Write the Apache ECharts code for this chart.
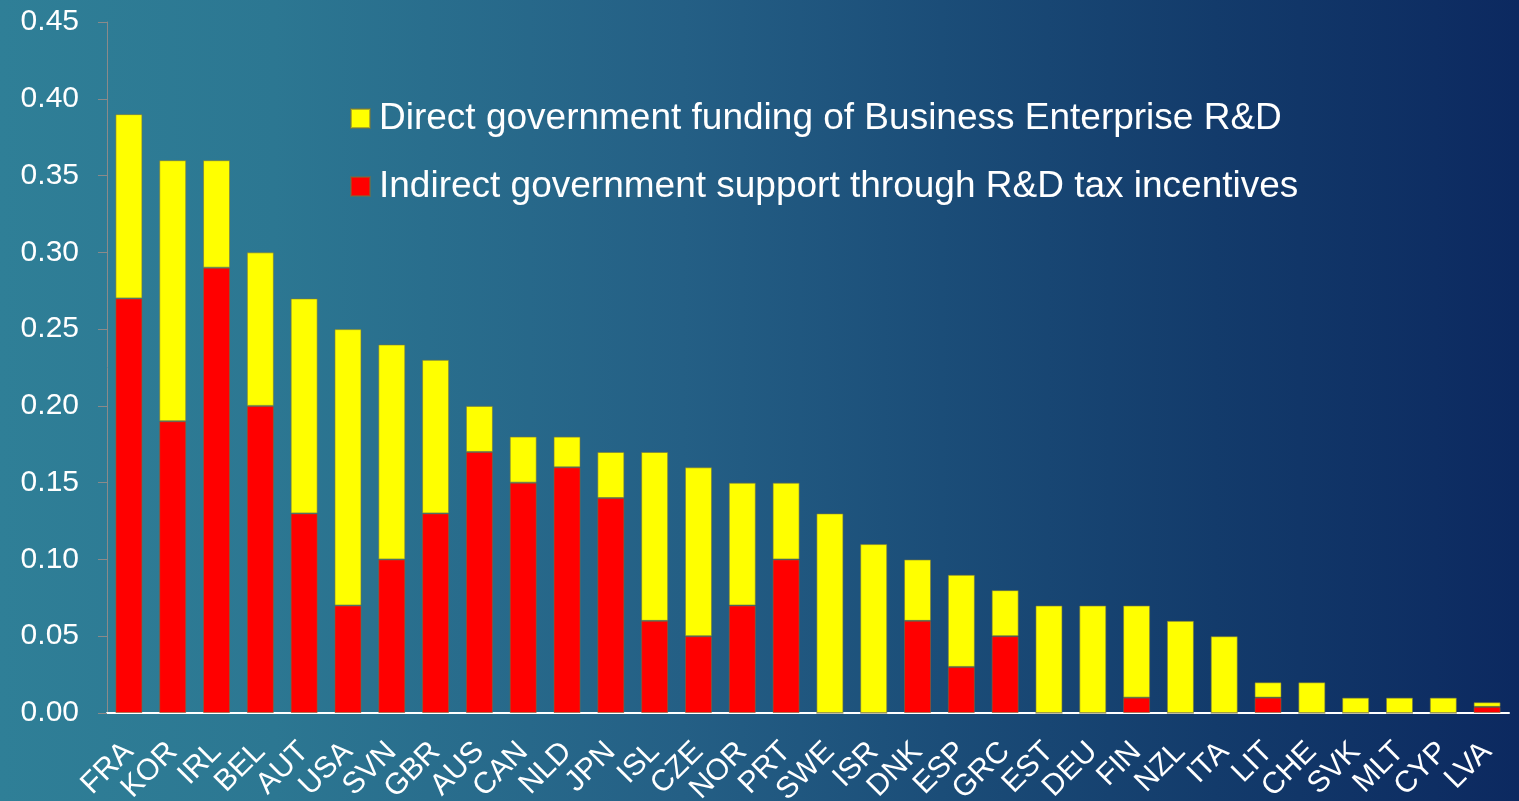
<!DOCTYPE html>
<html>
<head>
<meta charset="utf-8">
<script src="https://cdn.jsdelivr.net/npm/echarts@6/dist/echarts.min.js"></script>
<style>
  html, body { margin: 0; padding: 0; width: 100%; height: 100%; overflow: hidden; }
  body {
    background: linear-gradient(90deg, #2f7f97 0%, #2c7792 18%, #245f85 45%, #1b4d78 62%, #133b6b 80%, #0c2960 100%);
  }
  #chart { width: 1519px; height: 801px; }
</style>
</head>
<body>
<div id="chart"></div>
<script>
// Countries, ordered by total government support for business R&D
const countries = ['FRA', 'KOR', 'IRL', 'BEL', 'AUT', 'USA', 'SVN', 'GBR', 'AUS', 'CAN', 'NLD', 'JPN',
  'ISL', 'CZE', 'NOR', 'PRT', 'SWE', 'ISR', 'DNK', 'ESP', 'GRC', 'EST', 'DEU', 'FIN', 'NZL', 'ITA',
  'LIT', 'CHE', 'SVK', 'MLT', 'CYP', 'LVA'];

// Indirect support through R&D tax incentives (% of GDP)
const indirectSupport = [0.27, 0.19, 0.29, 0.20, 0.13, 0.07, 0.10, 0.13, 0.17, 0.15, 0.16, 0.14,
  0.06, 0.05, 0.07, 0.10, 0, 0, 0.06, 0.03, 0.05, 0, 0, 0.01, 0, 0,
  0.01, 0, 0, 0, 0, 0.004];

// Direct government funding of BERD (% of GDP)
const directFunding = [0.12, 0.17, 0.07, 0.10, 0.14, 0.18, 0.14, 0.10, 0.03, 0.03, 0.02, 0.03,
  0.11, 0.11, 0.08, 0.05, 0.13, 0.11, 0.04, 0.06, 0.03, 0.07, 0.07, 0.06, 0.06, 0.05,
  0.01, 0.02, 0.01, 0.01, 0.01, 0.003];

const directName = 'Direct government funding of Business Enterprise R&D';
const indirectName = 'Indirect government support through R&D tax incentives';

const font = '"Liberation Sans", Arial, sans-serif';
const chart = echarts.init(document.getElementById('chart'));

chart.setOption({
  backgroundColor: 'transparent',
  animation: false,
  textStyle: { fontFamily: font },
  grid: { left: 107, right: 10, top: 22, bottom: 88, containLabel: false, outerBoundsMode: 'none' },
  legend: {
    orient: 'vertical',
    left: 345,
    top: 95,
    data: [directName, indirectName],
    itemWidth: 19,
    itemHeight: 19,
    itemGap: 31,
    icon: 'rect',
    textStyle: { color: '#ffffff', fontSize: 37, fontFamily: font, padding: [0, 0, 0, 4] }
  },
  xAxis: {
    type: 'category',
    data: countries,
    axisLine: { lineStyle: { color: '#ffffff', width: 2 } },
    axisTick: { show: false },
    axisLabel: {
      color: '#ffffff',
      fontSize: 30,
      fontFamily: font,
      rotate: 45,
      margin: 34,
      interval: 0
    }
  },
  yAxis: {
    type: 'value',
    min: 0,
    max: 0.45,
    interval: 0.05,
    splitLine: { show: false },
    axisLine: { show: true, lineStyle: { color: '#8a8a8a', width: 1 } },
    axisTick: { show: true, length: 9, lineStyle: { color: '#8a8a8a' } },
    axisLabel: {
      color: '#ffffff',
      fontSize: 30,
      fontFamily: font,
      margin: 28,
      formatter: v => v.toFixed(2)
    }
  },
  series: [
    {
      name: indirectName,
      type: 'bar',
      stack: 'support',
      barWidth: 27,
      data: indirectSupport,
      itemStyle: { color: '#ff0000', borderColor: 'rgba(120,110,60,0.55)', borderWidth: 1 }
    },
    {
      name: directName,
      type: 'bar',
      stack: 'support',
      barWidth: 27,
      data: directFunding,
      itemStyle: { color: '#ffff00', borderColor: 'rgba(120,120,60,0.6)', borderWidth: 1 }
    }
  ]
});
</script>
</body>
</html>
